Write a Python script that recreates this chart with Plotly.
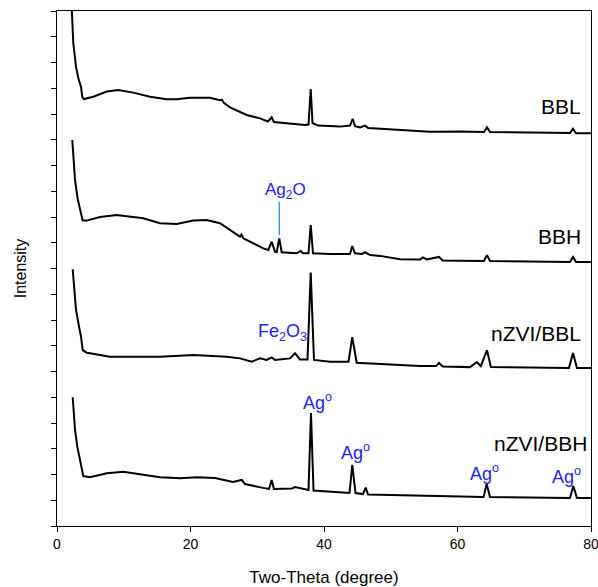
import plotly.graph_objects as go

# ---- data (2-theta in degrees, intensity in offset arbitrary units) ----
bbl_x = [2.05, 2.20, 2.44, 2.85, 3.19, 3.60, 3.79, 4.04, 5.44, 7.45, 9.18, 11.43, 13.93, 16.43, 17.93,
         19.93, 22.92, 24.42, 24.70, 25.00, 25.92, 28.42, 30.41, 31.60, 32.16, 32.50, 34.90, 37.15,
         37.68, 38.01, 38.28, 39.10, 42.39, 43.90, 44.30, 44.64, 45.40, 46.14, 46.60, 51.39, 55.88,
         60.40, 63.96, 64.42, 64.87, 70.90, 76.85, 77.30, 77.75, 80.00]
bbl_y = [21.00, 19.97, 18.76, 17.83, 17.40, 17.05, 16.66, 16.58, 16.67, 16.87, 16.93, 16.83, 16.67, 16.57, 16.57,
         16.63, 16.63, 16.54, 16.56, 16.43, 16.26, 15.96, 15.83, 15.71, 15.87, 15.69, 15.64, 15.57,
         15.59, 16.97, 15.65, 15.55, 15.51, 15.55, 15.81, 15.53, 15.48, 15.55, 15.46, 15.38, 15.31,
         15.32, 15.30, 15.48, 15.30, 15.28, 15.26, 15.43, 15.25, 15.25]

bbh_x = [2.29, 2.70, 3.10, 3.45, 3.70, 3.85, 4.45, 6.44, 8.94, 12.93, 15.43, 17.93, 20.42, 22.43, 24.42,
         26.41, 27.40, 27.64, 27.91, 29.41, 30.91, 31.66, 32.16, 32.66, 32.91, 33.30, 33.66, 35.91,
         36.51, 36.85, 37.68, 38.01, 38.35, 40.90, 43.90, 44.24, 44.64, 45.70, 46.14, 46.90, 48.40,
         51.39, 54.40, 54.83, 55.40, 57.23, 57.80, 60.40, 63.96, 64.42, 64.87, 76.85, 77.30, 77.75, 80.00]
bbh_y = [14.99, 13.44, 12.70, 12.27, 12.08, 11.86, 11.86, 12.00, 12.08, 11.95, 11.76, 11.73, 11.86, 11.88, 11.76,
         11.43, 11.24, 11.32, 11.17, 10.98, 10.78, 10.72, 11.04, 10.65, 10.63, 11.17, 10.63, 10.59,
         10.68, 10.59, 10.59, 11.69, 10.59, 10.56, 10.56, 10.87, 10.59, 10.56, 10.63, 10.52, 10.49,
         10.36, 10.35, 10.43, 10.35, 10.45, 10.31, 10.30, 10.29, 10.52, 10.29, 10.25, 10.45, 10.25, 10.25]

nzbbl_x = [2.35, 2.85, 3.30, 3.60, 3.85, 4.45, 4.94, 7.94, 15.43, 20.42, 25.42, 27.42, 29.17, 30.41,
           31.42, 32.16, 32.66, 34.91, 35.66, 36.40, 37.53, 38.01, 38.50, 40.90, 43.67, 44.24, 44.90,
           48.39, 54.38, 56.78, 57.23, 57.80, 61.87, 62.92, 63.50, 64.42, 65.00, 70.90, 76.70, 77.30,
           77.90, 80.00]
nzbbl_y = [9.97, 8.39, 7.74, 7.35, 6.83, 6.73, 6.71, 6.57, 6.57, 6.64, 6.57, 6.51, 6.38, 6.51,
           6.45, 6.55, 6.45, 6.51, 6.71, 6.47, 6.47, 9.84, 6.45, 6.38, 6.38, 7.33, 6.34,
           6.29, 6.21, 6.21, 6.33, 6.19, 6.17, 6.37, 6.21, 6.83, 6.17, 6.16, 6.14, 6.72,
           6.14, 6.14]

nzbbh_x = [2.35, 2.70, 3.04, 3.45, 3.79, 3.94, 4.94, 7.45, 9.93, 12.43, 15.43, 18.43, 20.93, 23.67,
           26.37, 27.67, 28.16, 30.86, 31.76, 32.16, 32.50, 35.20, 35.66, 37.68, 38.05, 38.43, 41.35,
           43.82, 44.24, 44.72, 45.84, 46.25, 46.60, 51.39, 61.40, 63.90, 64.37, 64.87, 76.85, 77.35,
           77.90, 80.00]
nzbbh_y = [5.00, 3.73, 3.08, 2.56, 2.11, 1.94, 1.89, 2.05, 2.11, 2.02, 1.89, 1.85, 1.89, 1.86,
           1.71, 1.79, 1.63, 1.48, 1.44, 1.79, 1.44, 1.46, 1.51, 1.40, 4.39, 1.38, 1.32,
           1.28, 2.37, 1.28, 1.24, 1.49, 1.22, 1.20, 1.14, 1.13, 1.63, 1.13, 1.09, 1.55,
           1.09, 1.09]

series_names = ["BBL", "BBH", "nZVI/BBL", "nZVI/BBH"]
x_ticks = [0, 20, 40, 60, 80]

FONT = "Arial, Liberation Sans, sans-serif"
BLUE = "#2323f0"

fig = go.Figure()
for name, xs, ys in zip(series_names, [bbl_x, bbh_x, nzbbl_x, nzbbh_x], [bbl_y, bbh_y, nzbbl_y, nzbbh_y]):
    fig.add_trace(go.Scatter(x=xs, y=ys, mode="lines", name=name,
                             line=dict(color="black", width=2.0), showlegend=False))

annotations = [
    dict(x=78.76, y=16.28, text="BBL", xanchor="right", font=dict(size=21, color="black")),
    dict(x=78.76, y=11.24, text="BBH", xanchor="right", font=dict(size=21, color="black")),
    dict(x=78.76, y=7.48, text="nZVI/BBL", xanchor="right", font=dict(size=21, color="black")),
    dict(x=79.75, y=3.21, text="nZVI/BBH", xanchor="right", font=dict(size=21, color="black")),
    dict(x=34.23, y=13.0, text="Ag<sub>2</sub>O", font=dict(size=17, color=BLUE)),
    dict(x=33.78, y=7.5, text="Fe<sub>2</sub>O<sub>3</sub>", font=dict(size=18, color=BLUE)),
    dict(x=39.1, y=4.85, text="Ag<sup>o</sup>", font=dict(size=18, color=BLUE)),
    dict(x=44.75, y=2.89, text="Ag<sup>o</sup>", font=dict(size=18, color=BLUE)),
    dict(x=63.97, y=2.07, text="Ag<sup>o</sup>", font=dict(size=18, color=BLUE)),
    dict(x=76.4, y=1.98, text="Ag<sup>o</sup>", font=dict(size=18, color=BLUE)),
]
for a in annotations:
    a.update(showarrow=False, xref="x", yref="y", yanchor="middle")
    a["font"]["family"] = FONT

fig.update_layout(
    width=598, height=587,
    margin=dict(l=57, r=7, t=11, b=61),
    paper_bgcolor="white", plot_bgcolor="white",
    font=dict(family=FONT, size=14, color="black"),
    annotations=annotations,
    shapes=[dict(type="line", xref="x", yref="y", x0=33.3, x1=33.3, y0=11.30, y1=12.59,
                 line=dict(color="#1e8cff", width=1.3))],
)
fig.update_xaxes(range=[0, 80], tickvals=x_ticks, ticks="outside", ticklen=5, tickwidth=1.2,
                 tickcolor="black", showline=True, linecolor="black", linewidth=1.3, mirror=True,
                 showgrid=False, zeroline=False, tickfont=dict(size=14), ticklabeloverflow="allow",
                 automargin=False,
                 title=dict(text="Two-Theta (degree)", font=dict(size=17), standoff=22))
fig.update_yaxes(range=[0, 20], dtick=1, tick0=0, ticks="outside", ticklen=5, tickwidth=1.2,
                 tickcolor="black", showline=True, linecolor="black", linewidth=1.3, mirror=True,
                 showgrid=False, zeroline=False, showticklabels=False, automargin=False,
                 title=dict(text="Intensity", font=dict(size=16), standoff=20))

fig.write_html("out.html", config={"displayModeBar": False},
               post_script="document.body.style.margin='0';document.body.style.overflow='hidden';")
